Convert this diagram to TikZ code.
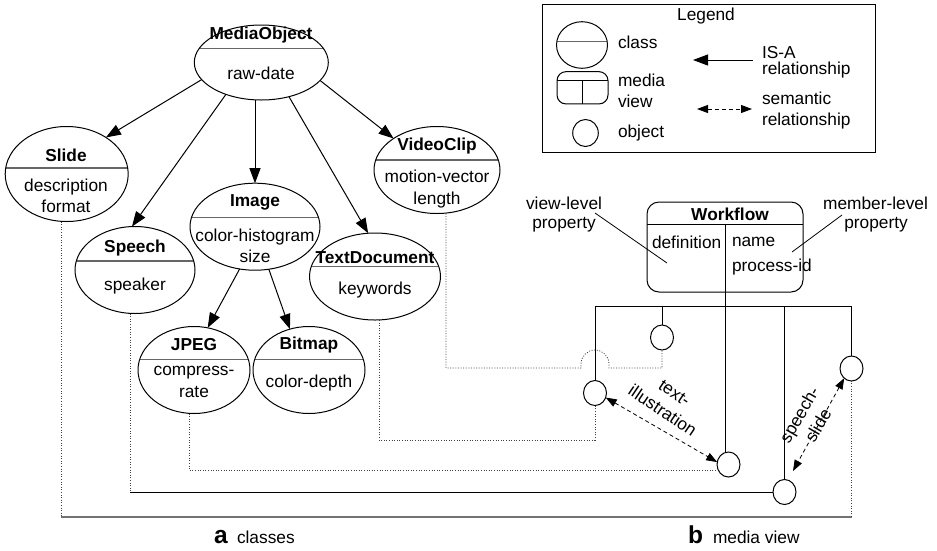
\documentclass[tikz,border=0pt]{standalone}
\usepackage{fontspec}
\setmainfont{Liberation Sans}
\usetikzlibrary{arrows.meta,shapes.geometric}

\begin{document}
\begin{tikzpicture}[x=1pt,y=-1pt,
  every node/.style={font=\fontsize{17.3}{21.5}\selectfont, inner sep=0pt, outer sep=0pt},
  cls/.style 2 args={ellipse, draw, line width=1pt, minimum width=#1, minimum height=#2},
  divider/.style={path picture={\draw[line width=1.4pt, black!60]
      ([yshift=#1]path picture bounding box.west) -- ([yshift=#1]path picture bounding box.east);}},
  ttl/.style={font=\bfseries\fontsize{17.3}{21.5}\selectfont},
  txt/.style={align=center},
  obj/.style={ellipse, draw, line width=1pt, minimum width=23pt, minimum height=25pt},
  isa/.style={line width=1pt, -{Triangle[length=15pt, width=11pt]}},
  sem/.style={line width=0.8pt, dash pattern=on 4pt off 3pt,
      {Triangle[length=11pt, width=8pt]}-{Triangle[length=11pt, width=8pt]}},
  link/.style={line width=0.8pt, black!75, dash pattern=on 1pt off 1.6pt},
  wire/.style={line width=1pt},
  big/.style={font=\bfseries\fontsize{24.5}{24.5}\selectfont},
]
\useasboundingbox (0,0) rectangle (937,550);

% ---------------- class hierarchy ----------------
\node[cls={134pt}{75pt}, divider=14pt] (mo) at (261.3,62.5) {};
\node[ttl] (moT) at (261,35) {MediaObject};
\node (moB) at (261,73) {raw-date};

\node[cls={123pt}{95pt}, divider=6pt] (slide) at (66.7,174) {};
\node[ttl] (slideT) at (66,155) {Slide};
\node[txt] (slideB) at (66,196) {description\\format};

\node[cls={120pt}{87pt}, divider=9pt] (speech) at (135,270) {};
\node[ttl] (speechT) at (135,248) {Speech};
\node (speechB) at (135,286) {speaker};

\node[cls={130pt}{87pt}, divider=9.4pt] (image) at (255,226.7) {};
\node[ttl] (imageT) at (255,202) {Image};
\node[txt] (imageB) at (255,246) {color-histogram\\size};

\node[cls={131pt}{87pt}, divider=10pt] (td) at (375,276.5) {};
\node[ttl] (tdT) at (375,258) {TextDocument};
\node (tdB) at (375,290) {keywords};

\node[cls={126pt}{87pt}, divider=10pt] (vc) at (437,170) {};
\node[ttl] (vcT) at (437,146) {VideoClip};
\node[txt] (vcB) at (437,189) {motion-vector\\length};

\node[cls={112pt}{87pt}, divider=10.7pt] (jpeg) at (194,370) {};
\node[ttl] (jpegT) at (194,345) {JPEG};
\node[txt] (jpegB) at (194,382) {compress-\\rate};

\node[cls={112pt}{87pt}, divider=10.7pt] (bmp) at (309,370) {};
\node[ttl] (bmpT) at (309,345) {Bitmap};
\node (bmpB) at (309,383) {color-depth};

% IS-A relationships
\draw[isa] (mo.196) -- (slide.43);
\draw[isa] (mo.222) -- (speech.94);
\draw[isa] (image.north |- mo.south) -- (image.north);
\draw[isa] (mo.309) -- (td.99);
\draw[isa] (mo.343) -- (vc.144);
\draw[isa] (image.250) -- (jpeg.72);
\draw[isa] (image.288) -- (bmp.115);

% ---------------- legend ----------------
\node[draw, line width=1pt, minimum width=333pt, minimum height=148pt] (legend) at (708.5,78) {};
\node (legT) at (706,16) {Legend};
\node[cls={51pt}{46.6pt}, divider=3.3pt] (lgCls) at (582,45) {};
\node[anchor=west] (lgClsT) at (618,42) {class};
\node[draw, line width=1pt, rounded corners=9pt, minimum width=51pt, minimum height=32.3pt] (lgMv) at (582.5,87.8) {};
\draw[wire] (lgMv.west |- 0,80.7) -- (lgMv.east |- 0,80.7);
\draw[wire] (lgMv.center |- 0,80.7) -- (lgMv.south);
\node[anchor=west] (lgMvT1) at (618,80) {media};
\node[anchor=west] (lgMvT2) at (618,101) {view};
\node[obj, minimum width=25.6pt, minimum height=27pt] (lgObj) at (585.5,133) {};
\node[anchor=west] (lgObjT) at (618,133) {object};
\coordinate (isaA) at (753,60);
\coordinate (isaB) at (693,60);
\draw[isa] (isaA) -- (isaB);
\node[anchor=west] (isaT1) at (762,53) {IS-A};
\node[anchor=west] (isaT2) at (762,70) {relationship};
\coordinate (semA) at (697,109);
\coordinate (semB) at (752,109);
\draw[sem] (semA) -- (semB);
\node[anchor=west] (semT1) at (762,98) {semantic};
\node[anchor=west] (semT2) at (762,121) {relationship};

% ---------------- media view ----------------
\node[draw, line width=1pt, rounded corners=12pt, minimum width=156pt, minimum height=90pt] (wf) at (725,247) {};
\draw[wire] (wf.west |- 0,224) -- (wf.east |- 0,224);
\node[ttl] (wfT) at (730,214) {Workflow};
\node[anchor=west] (wfDef) at (652,242) {definition};
\node[anchor=west] (wfName) at (732,242) {name};
\node[anchor=west] (wfPid) at (732,267) {process-id};

\node (vlT1) at (564,203) {view-level};
\node (vlT2) at (564,225) {property};
\node (mlT1) at (875.5,203) {member-level};
\node (mlT2) at (876,225) {property};
\coordinate (vlA) at (595,213);
\coordinate (vlB) at (667,263);
\coordinate (mlA) at (842,215);
\coordinate (mlB) at (792,252);
\draw[line width=0.8pt] (vlA) -- (vlB);
\draw[line width=0.8pt] (mlA) -- (mlB);

% member objects
\node[obj] (A) at (595,393) {};
\node[obj] (B) at (662,337.5) {};
\node[obj] (C) at (728.5,464.5) {};
\node[obj] (D) at (784.5,492) {};
\node[obj] (E) at (851.5,368.5) {};

\coordinate (busL) at (594.5,306);
\coordinate (busR) at (851.5,306);
\draw[wire] (busL) -- (busR);
\draw[wire] (A.north |- busL) -- (A.north);
\draw[wire] (B.north |- busL) -- (B.north);
\draw[wire] (D.north |- busL) -- (D.north);
\draw[wire] (E.north |- busL) -- (E.north);
\draw[wire] (wf.center |- 0,224) -- (wf.center |- C.north);

% semantic relationships
\draw[sem] (A.-23) -- (C.168);
\node[rotate=-34, txt] (tiLbl) at (668.5,402) {text-\\illustration};
\coordinate (sdTip) at (793,471);
\draw[sem] (E.233) -- (sdTip);
\node[rotate=60, txt] (ssLbl) at (808.5,420) {speech-\\slide};

% links from classes to their member objects
\coordinate (s1) at (61,517);
\coordinate (s3) at (851.5,517);
\draw[link] (slide.south -| s1) -- (s1);
\draw[line width=1.3pt, black!55] (s1) -- (s3);
\draw[link] (s3) -- (E.south);

\coordinate (s2) at (130,492);
\draw[link] (speech.south -| s2) -- (s2);
\draw[wire] (s2) -- (D.west);

\coordinate (j1) at (189,470);
\draw[link] (jpeg.south -| j1) -- (j1) -- (j1 -| C.west);

\coordinate (t1) at (379,440);
\draw[link] (td.south -| t1) -- (t1) -- (t1 -| A.south) -- (A.south);

\coordinate (v1) at (446,368);
\draw[link] (vc.south -| v1) -- (v1) -- (581,368) -- (581,364)
  arc[start angle=180, end angle=360, radius=14] -- (609,368) -- (B.south |- v1) -- (B.south);

% captions
\node[big, anchor=base west] (capA) at (214,543) {a};
\node[anchor=base west] (capAT) at (237,543) {classes};
\node[big, anchor=base west] (capB) at (688,543) {b};
\node[anchor=base west] (capBT) at (713,543) {media view};
\end{tikzpicture}
\end{document}
